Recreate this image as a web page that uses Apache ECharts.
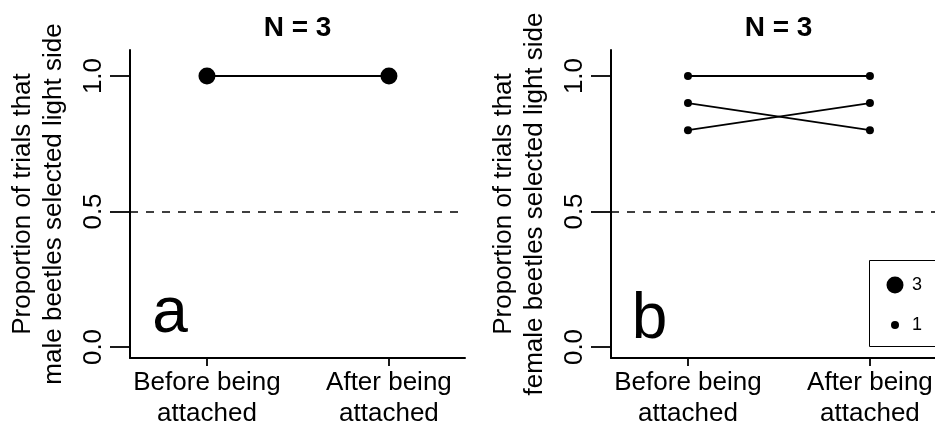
<!DOCTYPE html>
<html><head><meta charset="utf-8">
<script src="https://cdn.jsdelivr.net/npm/echarts@6/dist/echarts.min.js"></script>
<style>html,body{margin:0;padding:0;background:#fff}#c{width:935px;height:428px}</style>
</head><body><div id="c"></div>
<script>
// ---- data ----
const categories = ['Before being\nattached', 'After being\nattached'];
const xPositions = [1, 2];
const yTicks = [0, 0.5, 1];
const maleBefore = [1.0];
const maleAfter = [1.0];
const maleCount = [3];
const femaleBefore = [1.0, 0.9, 0.8];
const femaleAfter = [1.0, 0.8, 0.9];
const femaleCount = [1, 1, 1];
const chanceLevel = 0.5;
const panelTitles = ['N = 3', 'N = 3'];
const panelLetters = ['a', 'b'];
const yNames = ['Proportion of trials that\nmale beetles selected light side',
                'Proportion of trials that\nfemale beetles selected light side'];
const legendCounts = [3, 1];

// ---- styling ----
const FONT = '"Liberation Sans", Arial, Helvetica, sans-serif';
const BLACK = '#000';
const sizeFor = c => (c >= 3 ? 17 : 8);

const chart = echarts.init(document.getElementById('c'), null, {renderer: 'canvas'});

function panelSeries(before, after, counts, gi, withRef) {
  return before.map((b, k) => {
    const s = {
      type: 'line',
      name: String(counts[k]),
      xAxisIndex: gi, yAxisIndex: gi,
      data: [[xPositions[0], b], [xPositions[1], after[k]]],
      symbol: 'circle',
      symbolSize: sizeFor(counts[k]),
      showSymbol: true,
      itemStyle: {color: BLACK},
      lineStyle: {color: BLACK, width: 1.8},
      emphasis: {disabled: true},
      silent: true,
      z: 3
    };
    if (k === 0 && withRef) {
      s.markLine = {
        silent: true, symbol: ['none', 'none'], label: {show: false},
        lineStyle: {type: [8, 8], color: BLACK, width: 1.5},
        emphasis: {disabled: true},
        data: [{yAxis: chanceLevel}]
      };
    }
    return s;
  });
}

const gridLefts = [130, 611];
const gridW = 335;

const xAxes = [0, 1].map(i => ({
  type: 'value', gridIndex: i, min: 0.577, max: 2.418,
  axisLine: {show: true, onZero: false, lineStyle: {color: BLACK, width: 2}},
  axisTick: {show: true, customValues: xPositions, length: 8, lineStyle: {color: BLACK, width: 1.8}},
  axisLabel: {show: true, customValues: xPositions, formatter: v => categories[Math.round(v) - 1],
              fontSize: 26, lineHeight: 31, color: BLACK, fontFamily: FONT, margin: 9.5},
  splitLine: {show: false}
}));

const yAxes = [0, 1].map(i => ({
  type: 'value', gridIndex: i, min: -0.0406, max: 1.096,
  axisLine: {show: true, onZero: false, lineStyle: {color: BLACK, width: 2}},
  axisTick: {show: true, customValues: yTicks, length: 20, lineStyle: {color: BLACK, width: 1.8}},
  axisLabel: {show: true, customValues: yTicks, rotate: 90, formatter: v => v.toFixed(1),
              fontSize: 26, color: BLACK, fontFamily: FONT, margin: 23},
  splitLine: {show: false},
  name: yNames[i], nameLocation: 'middle', nameGap: 61, nameRotate: 90, nameMoveOverlap: false,
  nameTextStyle: {fontSize: 26, lineHeight: 31, color: BLACK, fontFamily: FONT}
}));

// legend (point size key) drawn as graphic elements inside a box
const legendY = [285, 325];
const legendGraphic = [
  {type: 'rect', z: 0, shape: {x: 869.5, y: 260.5, width: 100, height: 86},
   style: {fill: '#fff', stroke: BLACK, lineWidth: 1}}
];
legendCounts.forEach((c, i) => {
  legendGraphic.push({type: 'circle', z: 5, shape: {cx: 895, cy: legendY[i], r: sizeFor(c) / 2},
                      style: {fill: BLACK}});
  legendGraphic.push({type: 'text', z: 5, x: 912, y: legendY[i],
                      style: {text: String(c), font: '18px ' + FONT, fill: BLACK,
                              textAlign: 'left', textVerticalAlign: 'middle'}});
});

const option = {
  animation: false,
  backgroundColor: '#fff',
  title: panelTitles.map((t, i) => ({
    text: t, left: gridLefts[i] + gridW / 2, top: 14, textAlign: 'center', textVerticalAlign: 'top',
    padding: 0,
    textStyle: {fontSize: 28, fontWeight: 'bold', color: BLACK, fontFamily: FONT}
  })),
  grid: [0, 1].map(i => ({left: gridLefts[i], top: 50, width: gridW, height: 308,
                          containLabel: false, outerBoundsMode: 'none'})),
  xAxis: xAxes,
  yAxis: yAxes,
  graphic: [
    {type: 'text', x: 170, y: 314.8, z: 5,
     style: {text: panelLetters[0], font: '64px ' + FONT, fill: BLACK, textAlign: 'center', textVerticalAlign: 'middle'}},
    {type: 'text', x: 649.5, y: 320.3, z: 5,
     style: {text: panelLetters[1], font: '64px ' + FONT, fill: BLACK, textAlign: 'center', textVerticalAlign: 'middle'}},
    ...legendGraphic
  ],
  series: [
    ...panelSeries(maleBefore, maleAfter, maleCount, 0, true),
    ...panelSeries(femaleBefore, femaleAfter, femaleCount, 1, true)
  ]
};
chart.setOption(option);
</script></body></html>
